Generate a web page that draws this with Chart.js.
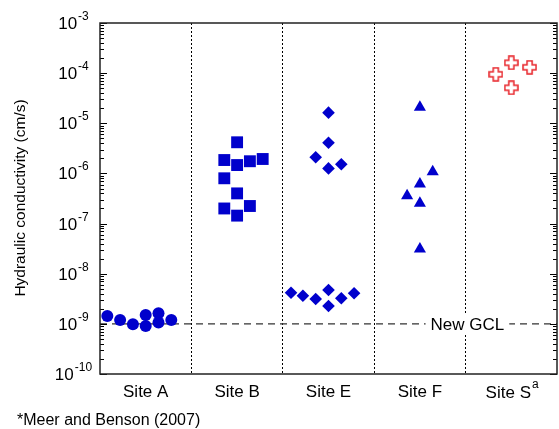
<!DOCTYPE html>
<html>
<head>
<meta charset="utf-8">
<title>Hydraulic conductivity by site</title>
<script src="https://cdn.jsdelivr.net/npm/chart.js@4.4.1/dist/chart.umd.min.js"></script>
<style>
  html, body { margin: 0; padding: 0; background: #fff; overflow: hidden; }
  #kChart { display: block; }
</style>
</head>
<body>
<canvas id="kChart" width="559" height="429"></canvas>
<script>
// Categories along the x axis
const categories = ['Site A', 'Site B', 'Site E', 'Site F', 'Site S'];

// Decade exponents for the y axis labels (10^-10 ... 10^-3)
const yExponents = [-10, -9, -8, -7, -6, -5, -4, -3];

// Hydraulic conductivity (cm/s) per site, with horizontal jitter (in category units)
const siteAValues = [1.43e-9, 1.19e-9, 0.98e-9, 1.5e-9, 0.905e-9, 1.62e-9, 1.07e-9, 1.19e-9];
const siteAJitter = [-0.42, -0.28, -0.14, 0, 0, 0.14, 0.14, 0.28];

const siteBValues = [4.18e-6, 1.85e-6, 1.47e-6, 1.75e-6, 1.94e-6, 8.0e-7, 4.0e-7, 2.0e-7, 2.24e-7, 1.44e-7];
const siteBJitter = [0, -0.14, 0, 0.14, 0.28, -0.14, 0, -0.14, 0.14, 0];

const siteEValues = [1.63e-5, 4.1e-6, 2.1e-6, 1.26e-6, 1.52e-6, 4.18e-9, 3.64e-9, 3.13e-9, 4.73e-9, 2.27e-9, 3.23e-9, 4.07e-9];
const siteEJitter = [0, 0, -0.14, 0, 0.14, -0.41, -0.28, -0.14, 0, 0, 0.14, 0.28];

const siteFValues = [2.08e-5, 1.08e-6, 6.15e-7, 3.6e-7, 2.54e-7, 3.1e-8];
const siteFJitter = [0, 0.14, 0, -0.14, 0, 0];

const siteSValues = [1.61e-4, 1.31e-4, 9.5e-5, 5.1e-5];
const siteSJitter = [0, 0.2, -0.17, 0];

// New GCL reference value
const newGclValue = 1e-9;

const FONT = '"Liberation Sans", Arial, Helvetica, sans-serif';
const BLUE = '#0000cc';
const RED = '#e8242a';

function toPoints(catIndex, values, jitter) {
  return values.map((v, i) => ({ x: catIndex + jitter[i], y: v }));
}

// hollow plus marker for Site S
function makeHollowCross(size, color) {
  const c = document.createElement('canvas');
  c.width = size; c.height = size;
  const g = c.getContext('2d');
  const lo = 1, hi = size - 1;
  const a1 = size * 0.33, a2 = size * 0.67;
  g.beginPath();
  g.moveTo(a1, lo); g.lineTo(a2, lo); g.lineTo(a2, a1); g.lineTo(hi, a1);
  g.lineTo(hi, a2); g.lineTo(a2, a2); g.lineTo(a2, hi); g.lineTo(a1, hi);
  g.lineTo(a1, a2); g.lineTo(lo, a2); g.lineTo(lo, a1); g.lineTo(a1, a1);
  g.closePath();
  g.fillStyle = '#fff';
  g.fill();
  g.strokeStyle = color;
  g.lineWidth = 1.5;
  g.stroke();
  return c;
}

// frame, inward ticks, tick labels and annotations
const decorPlugin = {
  id: 'decor',
  afterDatasetsDraw(chart) {
    const { ctx, scales: { x, y } } = chart;
    const yp = y.getPixelForValue(newGclValue);
    ctx.save();
    ctx.font = '17px ' + FONT;
    const label = 'New GCL';
    const w = ctx.measureText(label).width;
    const cx = x.getPixelForValue(3.52);
    ctx.fillStyle = '#fff';
    ctx.fillRect(cx - w / 2 - 5, yp - 10, w + 10, 20);
    ctx.fillStyle = '#000';
    ctx.textAlign = 'center';
    ctx.textBaseline = 'middle';
    ctx.fillText(label, cx, yp + 1);
    ctx.restore();
  },
  afterDraw(chart) {
    const { ctx, chartArea: a, scales: { x, y } } = chart;
    ctx.save();

    // inward ticks on left and right
    ctx.strokeStyle = '#000';
    ctx.lineWidth = 1;
    ctx.beginPath();
    for (let e = -10; e <= -3; e++) {
      for (let m = 1; m <= 9; m++) {
        if (e === -3 && m > 1) break;
        const py = Math.round(y.getPixelForValue(m * Math.pow(10, e))) + 0.5;
        const len = m === 1 ? 7 : 4;
        ctx.moveTo(a.left, py); ctx.lineTo(a.left + len, py);
        ctx.moveTo(a.right, py); ctx.lineTo(a.right - len, py);
      }
    }
    ctx.stroke();

    // frame
    ctx.strokeStyle = '#222';
    ctx.lineWidth = 1.5;
    ctx.strokeRect(a.left, a.top, a.right - a.left, a.bottom - a.top);

    // y tick labels 10^n
    ctx.fillStyle = '#000';
    ctx.textBaseline = 'alphabetic';
    yExponents.forEach(e => {
      const py = y.getPixelForValue(Math.pow(10, e));
      ctx.font = '17px ' + FONT;
      const wb = ctx.measureText('10').width;
      ctx.font = '12px ' + FONT;
      const we = ctx.measureText(String(e)).width;
      const x0 = 73 - (wb + we) / 2;
      ctx.font = '17px ' + FONT;
      ctx.textAlign = 'left';
      ctx.fillText('10', x0, py + 6);
      ctx.font = '12px ' + FONT;
      ctx.fillText(String(e), x0 + wb + 1, py - 3);
    });

    // x category labels
    categories.forEach((c, i) => {
      const px = x.getPixelForValue(i);
      ctx.font = '17px ' + FONT;
      ctx.textAlign = 'center';
      ctx.textBaseline = 'middle';
      if (c === 'Site S') {
        const w = ctx.measureText(c).width;
        ctx.fillText(c, px - 3, 393);
        ctx.font = '12px ' + FONT;
        ctx.textAlign = 'left';
        ctx.fillText('a', px - 3 + w / 2 + 1, 385);
      } else {
        ctx.fillText(c, px, 392);
      }
    });

    // y axis title
    ctx.save();
    ctx.translate(21, 198);
    ctx.rotate(-Math.PI / 2);
    ctx.font = '15.5px ' + FONT;
    ctx.textAlign = 'center';
    ctx.textBaseline = 'middle';
    ctx.fillText('Hydraulic conductivity (cm/s)', 0, 0);
    ctx.restore();

    // footnote
    ctx.font = '16px ' + FONT;
    ctx.textAlign = 'left';
    ctx.textBaseline = 'middle';
    ctx.fillText('*Meer and Benson (2007)', 17, 421);

    ctx.restore();
  }
};

new Chart(document.getElementById('kChart'), {
  type: 'scatter',
  data: {
    datasets: [
      {
        label: 'Site A',
        data: toPoints(0, siteAValues, siteAJitter),
        pointStyle: 'circle', pointRadius: 6,
        backgroundColor: BLUE, borderColor: BLUE, borderWidth: 0
      },
      {
        label: 'Site B',
        data: toPoints(1, siteBValues, siteBJitter),
        pointStyle: 'rect', pointRadius: 8.4,
        backgroundColor: BLUE, borderColor: BLUE, borderWidth: 0
      },
      {
        label: 'Site E',
        data: toPoints(2, siteEValues, siteEJitter),
        pointStyle: 'rectRot', pointRadius: 6.3,
        backgroundColor: BLUE, borderColor: BLUE, borderWidth: 0
      },
      {
        label: 'Site F',
        data: toPoints(3, siteFValues, siteFJitter),
        pointStyle: 'triangle', pointRadius: 7,
        backgroundColor: BLUE, borderColor: BLUE, borderWidth: 0
      },
      {
        label: 'Site S',
        data: toPoints(4, siteSValues, siteSJitter),
        pointStyle: makeHollowCross(15, RED), pointRadius: 7.5
      },
      {
        type: 'line',
        label: 'New GCL',
        data: [{ x: -0.5, y: newGclValue }, { x: 4.5, y: newGclValue }],
        borderColor: '#333', borderWidth: 1.2, borderDash: [7, 5],
        pointRadius: 0, fill: false
      }
    ]
  },
  options: {
    responsive: false,
    animation: false,
    layout: { autoPadding: false, padding: { left: 100, top: 23, right: 2, bottom: 55 } },
    plugins: { legend: { display: false }, tooltip: { enabled: false } },
    scales: {
      x: {
        type: 'linear', min: -0.5, max: 4.5,
        afterBuildTicks: (scale) => {
          scale.ticks = [-0.5, 0, 0.5, 1, 1.5, 2, 2.5, 3, 3.5, 4, 4.5].map(v => ({ value: v }));
        },
        ticks: { display: false },
        grid: {
          drawTicks: false,
          lineWidth: 1,
          color: (c) => {
            const v = c.tick ? c.tick.value : 0;
            return (Math.abs(v % 1) === 0.5 && v > -0.5 && v < 4.5) ? '#000' : 'rgba(0,0,0,0)';
          }
        },
        border: { display: false, dash: [2, 2] }
      },
      y: {
        type: 'logarithmic', min: 1e-10, max: 1e-3,
        ticks: { display: false },
        grid: { display: false, drawTicks: false },
        border: { display: false }
      }
    }
  },
  plugins: [decorPlugin]
});
</script>
</body>
</html>
